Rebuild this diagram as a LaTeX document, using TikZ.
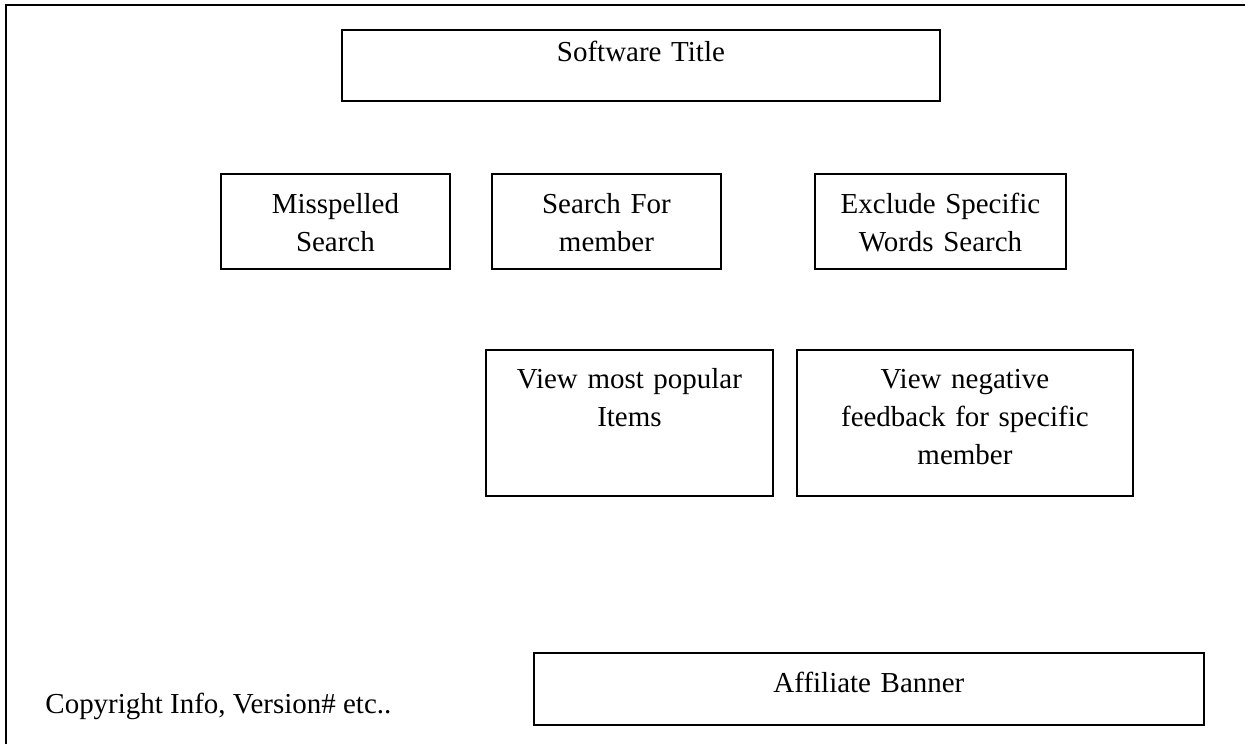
\documentclass[tikz,border=0pt]{standalone}
\usepackage{fontspec}
\setmainfont{Liberation Serif}
\usetikzlibrary{positioning}
% one screen unit
\newdimen\px
\px=0.4316pt
\tikzset{
  screen/.style={line width=0.8pt},
  panel/.style={draw,line width=0.8pt,anchor=north west,inner sep=0pt,align=center,
    font=\fontsize{12.5}{16.2}\selectfont},
  note/.style={anchor=base west,inner sep=0pt,font=\fontsize{12.5}{16.2}\selectfont},
}
\begin{document}
\begin{tikzpicture}[x=\px,y=-\px]
    \useasboundingbox (0,0) rectangle (1249,744);
    % screen outline (runs off to the right and bottom)
    \draw[screen] (6,744) -- (6,5) -- (1245,5);

    % header
    \node[panel,text width=598\px,text height=32\px,text depth=39\px] (title) at (341,29) {Software Title};

    % search options
    \node[panel,text width=229\px,text height=40\px,text depth=55\px] (miss) at (220,173) {Misspelled\\Search};
    \node[panel,text width=229\px,text height=40\px,text depth=55\px] (member) at (491,173) {Search For\\member};
    \node[panel,text width=251\px,text height=40\px,text depth=55\px] (exclude) at (814,173) {Exclude Specific\\Words Search};

    % views
    \node[panel,text width=287\px,text height=39\px,text depth=107\px] (popular) at (485,349) {View most popular\\Items};
    \node[panel,text width=336\px,text height=39\px,text depth=107\px] (negative) at (796,349) {View negative\\feedback for specific\\member};

    % footer
    \node[panel,text width=670\px,text height=40\px,text depth=32\px] (banner) at (533,652) {Affiliate Banner};
    \node[note] (copy) at (45,713) {Copyright Info, Version\# etc..};
\end{tikzpicture}
\end{document}
